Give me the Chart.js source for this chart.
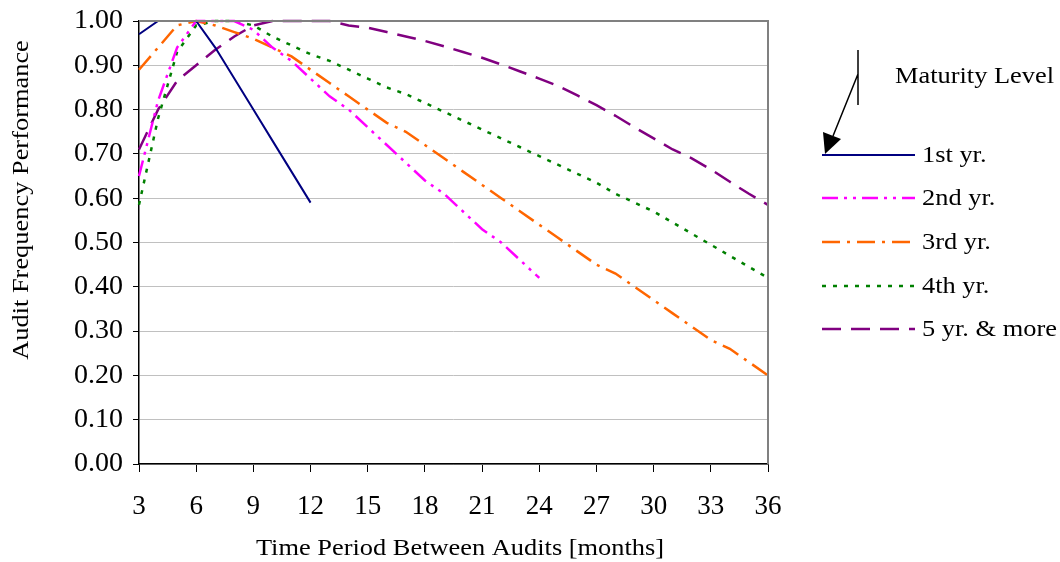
<!DOCTYPE html>
<html>
<head>
<meta charset="utf-8">
<script src="https://cdn.jsdelivr.net/npm/chart.js@4"></script>
<style>
  html, body { margin: 0; padding: 0; background: #fff; }
  #wrap { width: 1060px; height: 562px; }
</style>
</head>
<body>
<div id="wrap"><canvas id="audit-chart" width="1060" height="562"></canvas></div>
<script>
const months = [3, 4, 5, 6, 7, 8, 9, 10, 11, 12, 13, 14, 15, 16, 17, 18, 19, 20,
  21, 22, 23, 24, 25, 26, 27, 28, 29, 30, 31, 32, 33, 34, 35, 36];

const yr1 = [0.97, 1.00, 1.00, 1.00, 0.94, 0.87, 0.80, 0.73, 0.66, 0.59];
const yr2 = [0.65, 0.82, 0.94, 1.00, 1.00, 1.00, 0.98, 0.94, 0.91, 0.87, 0.83,
  0.80, 0.76, 0.72, 0.68, 0.64, 0.61, 0.57, 0.53, 0.50, 0.46, 0.42];
const yr3 = [0.89, 0.94, 0.99, 1.00, 0.99, 0.975, 0.96, 0.94, 0.92, 0.89, 0.86,
  0.83, 0.80, 0.77, 0.75, 0.72, 0.69, 0.66, 0.63, 0.60, 0.57, 0.54, 0.51, 0.48,
  0.45, 0.43, 0.40, 0.37, 0.34, 0.31, 0.28, 0.26, 0.23, 0.20];
const yr4 = [0.585, 0.78, 0.93, 0.99, 1.00, 1.00, 0.99, 0.965, 0.945, 0.925, 0.91,
  0.89, 0.87, 0.85, 0.835, 0.815, 0.795, 0.775, 0.755, 0.735, 0.715, 0.695,
  0.675, 0.655, 0.635, 0.61, 0.59, 0.57, 0.545, 0.52, 0.495, 0.47, 0.445, 0.42];
const yr5 = [0.71, 0.80, 0.865, 0.90, 0.935, 0.965, 0.99, 1.00, 1.00, 1.00, 1.00,
  0.99, 0.985, 0.975, 0.965, 0.955, 0.943, 0.93, 0.917, 0.902, 0.886, 0.87,
  0.853, 0.832, 0.81, 0.786, 0.76, 0.735, 0.71, 0.69, 0.665, 0.637, 0.61, 0.585];

const seriesNames = ["1st yr.", "2nd yr.", "3rd yr.", "4th yr.", "5 yr. & more"];
const xTitle = "Time Period Between Audits [months]";
const yTitle = "Audit Frequency Performance";
const legendTitle = "Maturity Level";

const serif = "'Liberation Serif', 'Times New Roman', serif";

function pts(values) {
  return values.map((v, i) => ({ x: months[i], y: v }));
}

const styles = [
  { color: "#000080", width: 2, dash: [] },
  { color: "#ff00ff", width: 2.5, dash: [16, 6, 3, 6, 3, 6] },
  { color: "#ff6600", width: 2.5, dash: [18, 7, 3, 7] },
  { color: "#008000", width: 2.5, dash: [4, 7] },
  { color: "#800080", width: 2.5, dash: [19, 10] },
];

const allValues = [yr1, yr2, yr3, yr4, yr5];

const datasets = allValues.map((vals, i) => ({
  label: seriesNames[i],
  data: pts(vals),
  borderColor: styles[i].color,
  borderWidth: styles[i].width,
  borderDash: styles[i].dash,
  pointRadius: 0,
  tension: 0,
  fill: false,
  clip: 6,
}));

// the reference text is a little wider than Liberation Serif, so stretch it a bit
function wideText(ctx, text, x, y, align, rot) {
  ctx.save();
  ctx.translate(x, y);
  if (rot) ctx.rotate(rot);
  ctx.scale(1.1, 1);
  ctx.textAlign = align;
  ctx.fillText(text, 0, 0);
  ctx.restore();
}

// titles, plot border and the hand made legend with its arrow
const decorations = {
  id: "decorations",
  afterDraw(chart) {
    const ctx = chart.ctx;
    const a = chart.chartArea;
    ctx.save();

    ctx.strokeStyle = "#808080";
    ctx.lineWidth = 2;
    ctx.beginPath();
    ctx.moveTo(a.left, a.top);
    ctx.lineTo(a.right, a.top);
    ctx.lineTo(a.right, a.bottom);
    ctx.stroke();

    ctx.fillStyle = "#000";
    ctx.font = "24px " + serif;
    ctx.textBaseline = "middle";
    wideText(ctx, xTitle, 460, 549, "center");
    wideText(ctx, yTitle, 22, 200, "center", -Math.PI / 2);
    wideText(ctx, legendTitle, 895, 77, "left");

    ctx.strokeStyle = "#000";
    ctx.lineWidth = 1.5;
    ctx.setLineDash([]);
    ctx.beginPath();
    ctx.moveTo(858, 50);
    ctx.lineTo(858, 105);
    ctx.moveTo(858, 74);
    ctx.lineTo(833, 136);
    ctx.stroke();
    ctx.beginPath();
    ctx.moveTo(825, 154);
    ctx.lineTo(823, 132);
    ctx.lineTo(841, 139);
    ctx.closePath();
    ctx.fill();

    const rows = [155, 198, 242, 286, 329];
    chart.data.datasets.forEach((ds, i) => {
      const y = rows[i];
      ctx.strokeStyle = ds.borderColor;
      ctx.lineWidth = ds.borderWidth;
      ctx.setLineDash(ds.borderDash);
      ctx.beginPath();
      ctx.moveTo(822, y);
      ctx.lineTo(915, y);
      ctx.stroke();
      ctx.setLineDash([]);
      ctx.fillStyle = "#000";
      wideText(ctx, ds.label, 922, y + 1, "left");
    });

    ctx.restore();
  },
};

new Chart(document.getElementById("audit-chart"), {
  type: "line",
  data: { datasets },
  plugins: [decorations],
  options: {
    responsive: false,
    animation: false,
    layout: { padding: { top: 21, right: 292, left: 0, bottom: 0 } },
    plugins: {
      legend: { display: false },
      tooltip: { enabled: false },
    },
    scales: {
      x: {
        type: "linear",
        min: 3,
        max: 36,
        afterFit: (s) => {
          s.height = 98;
          s.paddingLeft = 0;
          s.paddingRight = 0;
        },
        ticks: {
          stepSize: 3,
          color: "#000",
          padding: 19,
          font: { family: serif, size: 27 },
        },
        grid: {
          drawOnChartArea: false,
          drawTicks: true,
          tickLength: 8,
          color: "#000",
        },
        border: { color: "#000", width: 1.5 },
      },
      y: {
        min: 0,
        max: 1,
        afterFit: (s) => {
          s.width = 139;
          s.paddingTop = 0;
          s.paddingBottom = 0;
        },
        ticks: {
          stepSize: 0.1,
          color: "#000",
          padding: 10,
          font: { family: serif, size: 28 },
          callback: (v) => v.toFixed(2),
        },
        grid: {
          color: "#c0c0c0",
          tickColor: "#000",
          tickLength: 6,
          lineWidth: 1,
        },
        border: { color: "#000", width: 1.5 },
      },
    },
  },
});
</script>
</body>
</html>
